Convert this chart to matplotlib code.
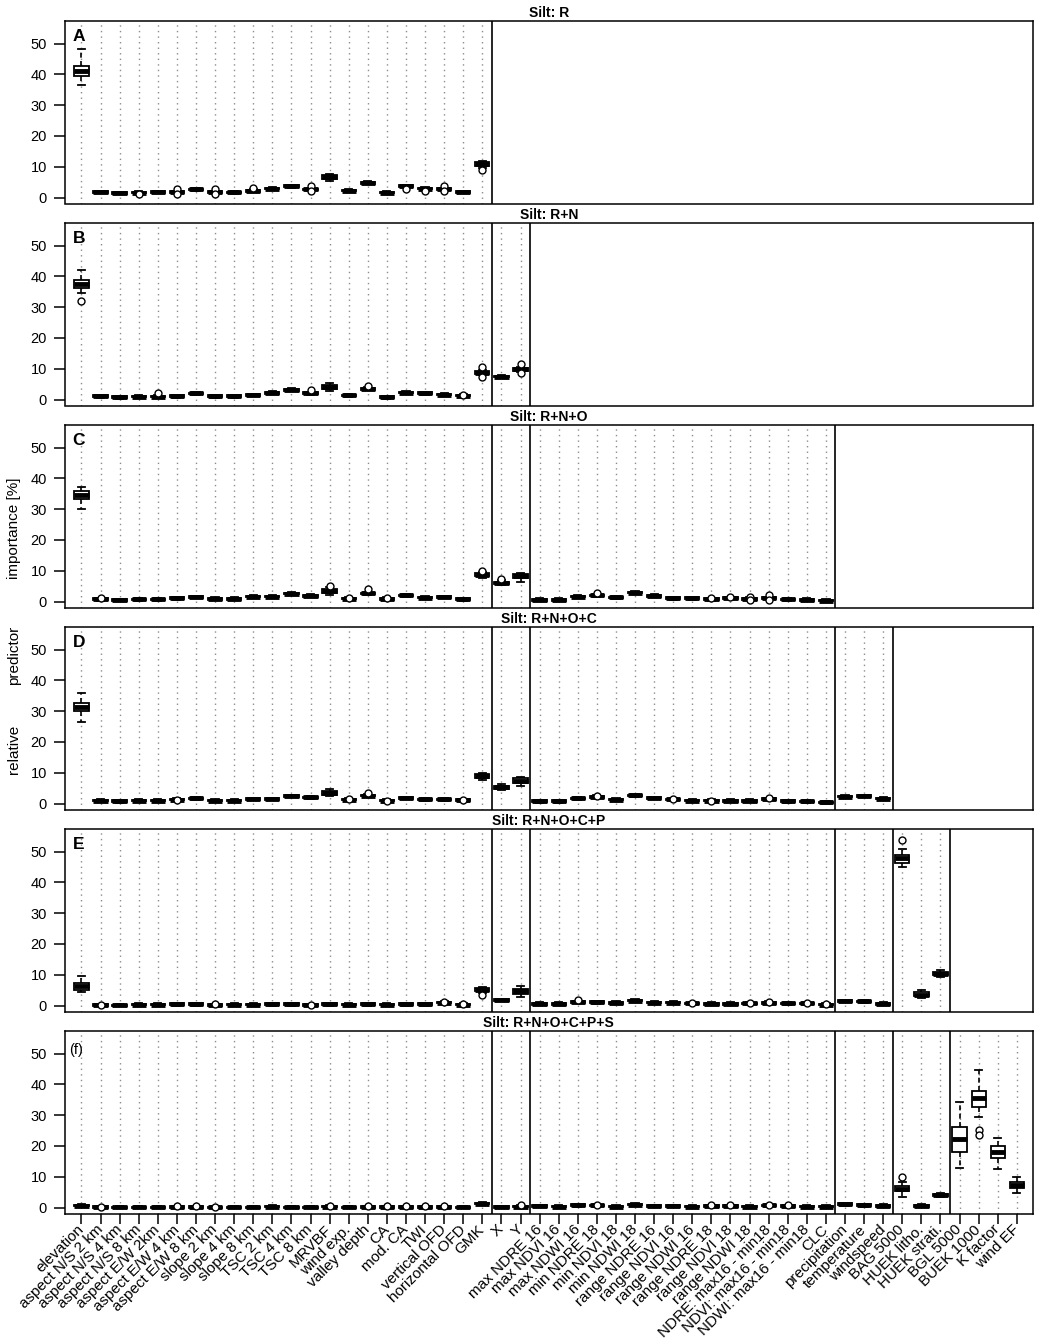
import matplotlib
matplotlib.use("Agg")
import matplotlib.pyplot as plt
import numpy as np

plt.rcParams['font.family'] = ['Liberation Sans', 'DejaVu Sans']

# ---------------- data ----------------
predictors = [
    "elevation", "aspect N/S 2 km", "aspect N/S 4 km", "aspect N/S 8 km",
    "aspect E/W 2km", "aspect E/W 4 km", "aspect E/W 8 km", "slope 2 km",
    "slope 4 km", "slope 8 km", "TSC 2 km", "TSC 4 km", "TSC 8 km", "MRVBF",
    "wind exp.", "valley depth", "CA", "mod. CA", "TWI", "vertical OFD",
    "horizontal OFD", "GMK",
    "X", "Y",
    "max NDRE 16", "max NDVI 16", "max NDWI 16", "min NDRE 18", "min NDVI 18",
    "min NDWI 18", "range NDRE 16", "range NDVI 16", "range NDWI 16",
    "range NDRE 18", "range NDVI 18", "range NDWI 18", "NDRE: max16 - min18",
    "NDVI: max16 - min18", "NDWI: max16 - min18", "CLC",
    "precipitation", "temperature", "windspeed",
    "BAG 5000", "HUEK litho.", "HUEK strati.",
    "BGL 5000", "BUEK 1000", "K factor", "wind EF",
]
group_sizes = [22, 2, 16, 3, 3, 4]
panel_titles = ["Silt: R", "Silt: R+N", "Silt: R+N+O", "Silt: R+N+O+C",
                "Silt: R+N+O+C+P", "Silt: R+N+O+C+P+S"]
panel_letters = ["A", "B", "C", "D", "E", "(f)"]

# medians per panel (relief, N, O, C, P, S in order)
med_A = [41.2, 1.8, 1.5, 1.6, 1.8, 1.8, 2.7, 1.8, 1.7, 2.2, 2.9, 3.7, 2.7, 6.7,
         2.3, 4.8, 1.6, 3.8, 2.9, 2.8, 1.8, 10.8]
med_B = [37.5, 1.1, 0.8, 1.0, 1.0, 1.1, 2.0, 1.1, 1.1, 1.5, 2.2, 3.2, 2.1, 4.0,
         1.4, 3.5, 0.8, 2.3, 2.1, 1.6, 1.3, 8.8,
         7.5, 9.8]
med_C = [34.6, 0.8, 0.5, 0.7, 0.7, 1.1, 1.5, 0.9, 0.9, 1.6, 1.6, 2.6, 1.9, 3.6,
         1.0, 2.7, 0.9, 2.0, 1.3, 1.5, 0.8, 8.7,
         6.0, 8.3,
         0.6, 0.6, 1.6, 2.0, 1.4, 2.9, 1.9, 1.1, 1.1, 0.8, 1.2, 0.9, 1.2, 0.7, 0.6, 0.3]
med_D = [31.2, 1.0, 0.8, 1.0, 1.0, 1.3, 1.7, 1.0, 1.0, 1.5, 1.5, 2.5, 2.0, 3.5,
         1.3, 2.6, 1.0, 1.8, 1.4, 1.4, 1.1, 8.9,
         5.3, 7.5,
         0.8, 0.8, 1.7, 2.2, 1.3, 2.7, 1.8, 1.4, 1.0, 1.0, 0.9, 0.9, 1.5, 0.8, 0.7, 0.4,
         2.3, 2.5, 1.6]
med_E = [6.3, 0.2, 0.1, 0.3, 0.3, 0.45, 0.45, 0.2, 0.3, 0.3, 0.45, 0.45, 0.2, 0.45,
         0.3, 0.45, 0.3, 0.45, 0.45, 1.0, 0.3, 5.2,
         1.85, 4.7,
         0.6, 0.6, 1.2, 1.1, 0.9, 1.6, 1.0, 1.0, 0.7, 0.6, 0.6, 0.7, 0.9, 0.7, 0.7, 0.3,
         1.5, 1.4, 0.6,
         47.8, 3.6, 10.4]
med_F = [0.65, 0.2, 0.1, 0.1, 0.1, 0.2, 0.2, 0.1, 0.1, 0.1, 0.3, 0.1, 0.1, 0.3,
         0.1, 0.2, 0.2, 0.2, 0.2, 0.2, 0.1, 1.3,
         0.2, 0.3,
         0.5, 0.3, 0.8, 0.7, 0.3, 1.0, 0.5, 0.5, 0.3, 0.5, 0.5, 0.3, 0.7, 0.5, 0.3, 0.3,
         1.1, 0.8, 0.6,
         6.1, 0.6, 4.0,
         22.2, 35.6, 18.0, 7.4]

# boxes with a readable spread: index -> (lower whisker, Q1, median, Q3, upper whisker)
wide_A = {0: (36.5, 39.4, 41.2, 42.8, 48.1), 13: (5.3, 6.1, 6.7, 7.4, 7.8),
          21: (9.6, 10.2, 10.8, 11.5, 11.8)}
wide_B = {0: (34.5, 36.1, 37.5, 38.7, 42.0), 13: (2.7, 3.3, 4.0, 4.8, 5.3),
          21: (7.9, 8.3, 8.8, 9.2, 9.7), 23: (9.0, 9.4, 9.8, 10.3, 10.6)}
wide_C = {0: (30.1, 33.3, 34.6, 36.0, 37.1), 13: (2.3, 2.8, 3.6, 4.1, 4.7),
          21: (7.8, 8.2, 8.7, 9.2, 9.6), 22: (5.4, 5.7, 6.0, 6.5, 6.9),
          23: (6.5, 7.6, 8.3, 9.1, 9.4)}
wide_D = {0: (26.4, 29.9, 31.2, 32.6, 35.8), 13: (2.4, 2.9, 3.5, 4.0, 4.6),
          21: (7.6, 8.3, 8.9, 9.5, 10.0), 22: (4.3, 4.8, 5.3, 5.8, 6.3),
          23: (5.8, 6.6, 7.5, 8.3, 8.7)}
wide_E = {0: (4.4, 5.1, 6.3, 7.3, 9.5), 21: (4.2, 4.7, 5.2, 5.7, 6.0),
          23: (2.9, 3.8, 4.7, 5.5, 6.4), 43: (45.1, 46.4, 47.8, 49.0, 50.9),
          44: (2.5, 3.1, 3.6, 4.3, 5.1), 45: (9.2, 9.9, 10.4, 11.0, 11.7)}
wide_F = {43: (3.3, 5.3, 6.1, 6.9, 8.2), 45: (3.4, 3.7, 4.0, 4.4, 4.7),
          46: (12.8, 18.2, 22.2, 26.1, 34.2), 47: (29.3, 32.6, 35.6, 37.8, 44.6),
          48: (12.6, 16.1, 18.0, 20.0, 22.6), 49: (4.7, 6.3, 7.4, 8.3, 10.1)}

# outliers: index -> values
fliers_A = {3: [1.1], 5: [2.7, 1.1], 7: [2.7, 1.1], 9: [3.2], 12: [3.8, 2.1],
            17: [2.9], 18: [2.1], 19: [3.9, 2.2], 21: [8.9]}
fliers_B = {0: [32.1], 4: [2.0], 12: [3.1], 15: [4.4], 20: [1.4],
            21: [10.7, 7.2], 23: [11.5, 8.5]}
fliers_C = {1: [1.2], 13: [5.2], 14: [1.2], 15: [4.1], 16: [1.1], 21: [10.0],
            22: [7.3], 27: [2.8], 33: [1.2], 34: [1.6], 35: [1.5, 0.5],
            36: [2.2, 0.6]}
fliers_D = {5: [1.1], 14: [1.5], 15: [3.6], 16: [0.8], 20: [1.3], 27: [2.5],
            31: [1.4], 33: [1.0], 36: [1.9]}
fliers_E = {1: [0.2], 7: [0.4], 12: [0.3], 19: [1.3], 20: [0.4], 21: [3.6],
            26: [1.9], 32: [1.0], 35: [1.0], 36: [1.3], 38: [0.8], 39: [0.4],
            43: [53.6]}
fliers_F = {1: [0.2], 5: [0.5], 6: [0.4], 7: [0.2], 13: [0.5], 15: [0.4],
            16: [0.4], 17: [0.4], 18: [0.4], 19: [0.4], 23: [0.8], 27: [1.0],
            33: [0.7], 34: [0.7], 36: [0.9], 37: [0.7], 43: [10.1],
            47: [25.2, 23.7]}

panels = [(med_A, wide_A, fliers_A), (med_B, wide_B, fliers_B),
          (med_C, wide_C, fliers_C), (med_D, wide_D, fliers_D),
          (med_E, wide_E, fliers_E), (med_F, wide_F, fliers_F)]

# half-heights used for very narrow boxes (style)
TINY_BOX = 0.25
TINY_WHISK = 0.45

# ---------------- figure ----------------
W, H = 1039, 1339
fig = plt.figure(figsize=(W / 100, H / 100), dpi=100)
left_px, right_px = 65, 1032.7
top0, pitch, ph = 21, 202, 182.5
bounds = np.cumsum(group_sizes)

for p in range(6):
    top = top0 + p * pitch
    ax = fig.add_axes([left_px / W, 1 - (top + ph) / H,
                       (right_px - left_px) / W, ph / H])
    med, wide, fl = panels[p]
    n = len(med)
    stats = []
    for i, m in enumerate(med):
        if i in wide:
            lo, q1, md, q3, hi = wide[i]
        else:
            lo, q1, md, q3, hi = (max(m - TINY_WHISK, 0), max(m - TINY_BOX, 0),
                                  m, m + TINY_BOX, m + TINY_WHISK)
        stats.append(dict(med=md, q1=q1, q3=q3, whislo=lo, whishi=hi,
                          fliers=fl.get(i, [])))

    for i in range(n):
        ax.axvline(i, color='#8c8c8c', lw=1.0, ls=(0, (1, 3)), zorder=0.5)
    for b in bounds[:p + 1]:
        if b < len(predictors):
            ax.axvline(b - 0.5, color='black', lw=1.2, zorder=1)

    ax.bxp(stats, positions=list(range(n)), widths=0.75, capwidths=0.38,
           patch_artist=True, manage_ticks=False,
           boxprops=dict(facecolor='white', edgecolor='black', linewidth=1.3),
           whiskerprops=dict(color='black', linewidth=1.2, linestyle=(0, (3, 2))),
           capprops=dict(color='black', linewidth=1.3),
           medianprops=dict(color='black', linewidth=3.5, solid_capstyle='butt'),
           flierprops=dict(marker='o', markerfacecolor='white',
                           markeredgecolor='black', markersize=5,
                           markeredgewidth=1.0, zorder=4))

    ax.set_xlim(-0.86, 49.83)
    ax.set_ylim(-1.9, 57.3)
    ax.set_yticks([0, 10, 20, 30, 40, 50])
    ax.tick_params(axis='y', direction='out', length=8, width=1.1, pad=5,
                   labelsize=10.5)
    for s in ax.spines.values():
        s.set_linewidth(1.1)
    ax.set_title(panel_titles[p], fontsize=10, fontweight='bold', pad=3)
    if p < 5:
        ax.text(0.008, 0.914, panel_letters[p], transform=ax.transAxes,
                fontsize=12.5, fontweight='bold', ha='left', va='center')
        ax.set_xticks([])
    else:
        ax.text(0.004, 0.896, panel_letters[p], transform=ax.transAxes,
                fontsize=10.5, ha='left', va='center')
        ax.set_xticks(list(range(len(predictors))))
        ax.set_xticklabels(predictors, rotation=45, ha='right', va='center',
                           rotation_mode='anchor', fontsize=11)
        ax.tick_params(axis='x', direction='out', length=7, width=1.1, pad=3)

fig.text(14 / W, 1 - 528 / H, 'importance [%]', rotation=90, ha='center',
         va='center', fontsize=11)
fig.text(14 / W, 1 - 655 / H, 'predictor', rotation=90, ha='center',
         va='center', fontsize=11)
fig.text(14 / W, 1 - 749 / H, 'relative', rotation=90, ha='center',
         va='center', fontsize=11)

fig.savefig('out.png', dpi=100)
